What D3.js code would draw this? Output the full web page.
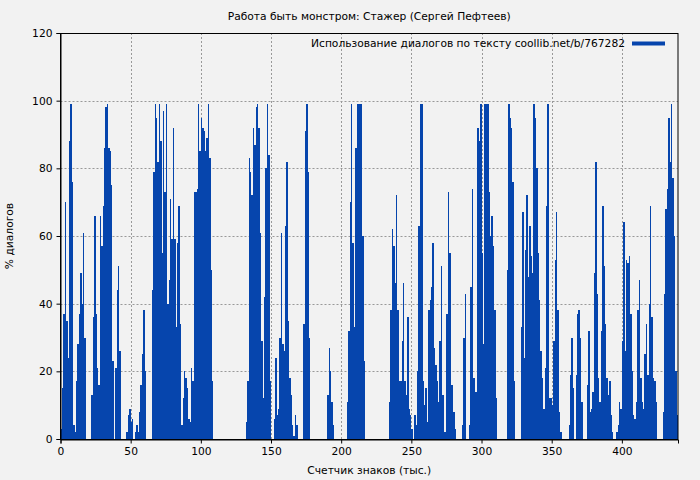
<!DOCTYPE html>
<html>
<head>
<meta charset="utf-8">
<script src="https://cdn.jsdelivr.net/npm/d3@7"></script>
<style>
  html, body { margin: 0; padding: 0; background: #f2f2f2; }
  svg { display: block; }
  text { font-family: "DejaVu Sans", sans-serif; fill: #000; }
</style>
</head>
<body>
<script>
// ---- data ----
const chartTitle = "Работа быть монстром: Стажер (Сергей Пефтеев)";
const seriesName = "Использование диалогов по тексту coollib.net/b/767282";
const xLabel = "Счетчик знаков (тыс.)";
const yLabel = "% диалогов";
const xTicks = [0, 50, 100, 150, 200, 250, 300, 350, 400];
const yTicks = [0, 20, 40, 60, 80, 100, 120];
// share of dialogue (%) for each thousand characters of text, index = counter (thousands)
const dialogShare = [
  3, 15, 37, 70, 35, 24, 88, 99, 76, 4, 2, 17, 28, 37, 49, 40, 61, 30,
  0, 0, 0, 0,
  13, 36, 66, 37, 21, 16, 66, 57, 69, 86, 98, 99, 86, 85, 75, 23,
  0,
  21, 44, 51, 26,
  0, 0, 0, 0,
  2, 7, 9, 5, 6, 0, 2, 4, 2, 8, 16, 25, 38, 20,
  0, 0, 0, 0,
  44, 79, 99, 95, 82, 99, 88, 55, 97, 73, 99, 40, 47, 71, 59, 92, 59, 33, 58, 69,
  34, 4, 12, 20, 18, 15, 6, 5, 21, 17, 73, 73, 74, 99, 85, 95, 92, 91, 85, 89, 99, 83, 50, 17,
  0, 0, 0, 0, 0, 0, 0, 0, 0, 0, 0, 0, 0, 0, 0, 0, 0, 0, 0, 0, 0, 0, 0,
  5, 17, 83, 79, 72, 92, 87, 98, 99, 92, 61, 29, 12, 42, 80, 99, 84, 17,
  0, 0,
  6, 24, 7, 9, 30, 61, 28, 26, 63, 82, 35, 18, 13, 4, 1, 7, 4,
  0, 0, 0, 0,
  34, 91, 99, 79, 30,
  0, 0, 0, 0, 0, 0, 0, 0, 0, 0, 0, 0,
  13, 27, 20, 11, 4,
  0, 0, 0, 0, 0, 0, 0, 0, 0,
  11, 32, 70, 99, 58, 33, 86, 99, 99, 99, 99, 60, 23, 0,
  0, 0, 0, 0, 0, 0, 0, 0, 0, 0, 0, 0, 0, 0, 0, 0,
  11, 38, 62, 57, 46, 72, 38, 17, 17, 29, 46, 17, 13, 36, 9, 7, 3, 0, 7, 4,
  20, 63, 99, 99, 17, 10, 15, 5, 38, 41, 45, 58, 27, 22, 17, 11, 29, 51, 13, 2,
  2, 37, 73, 55, 16, 16, 8, 3,
  0, 0, 0, 0,
  4, 30, 43, 0, 0, 4, 45, 74, 18, 14, 14, 92, 88, 99, 55, 28, 99, 99, 99, 73, 60, 66, 57, 38, 12,
  0, 0, 0, 0, 0, 0, 0,
  50, 99, 95, 92, 76, 17,
  0, 0, 0, 0,
  33, 67, 24, 56, 72, 48, 63, 54, 49, 99, 95, 80, 55, 41, 26, 18, 9, 21, 69, 99,
  12, 12, 10, 29, 53, 67, 38, 8, 2,
  0, 0, 0, 0, 0,
  4, 19, 30, 15, 0, 19, 37, 38, 30, 11,
  0, 0, 0,
  16, 32, 8, 9, 14, 49, 82, 43, 18, 11, 32, 69, 51, 34, 18, 13, 17, 7, 2,
  0, 0,
  2, 4, 11, 9, 29, 64, 26, 53, 52, 54, 37, 20, 7, 6, 11, 38, 47, 18, 11, 9,
  25, 34, 19, 40, 69, 36, 18, 17, 11,
  0, 0, 0, 0,
  8, 43, 68, 74, 95, 82, 99, 77, 60, 20, 7
];

// ---- layout ----
const W = 700, H = 480;
const mLeft = 60.5, mRight = 678, mTop = 33, mBottom = 439;
const barColor = "#0645ad";
const fontSize = 10.7;

const svg = d3.select("body").append("svg").attr("width", W).attr("height", H);
svg.append("rect").attr("width", W).attr("height", H).attr("fill", "#f2f2f2");

const x = d3.scaleLinear().domain([0, dialogShare.length]).range([mLeft, mRight]);
const y = d3.scaleLinear().domain([0, 120]).range([mBottom, mTop]);

// grid
const grid = svg.append("g").attr("stroke", "#999").attr("stroke-width", 1).attr("stroke-dasharray", "2,2");
grid.selectAll("line.v").data(xTicks.filter(t => t > 0)).join("line")
  .attr("x1", d => Math.round(x(d)) + 0.5).attr("x2", d => Math.round(x(d)) + 0.5)
  .attr("y1", mTop).attr("y2", mBottom);
grid.selectAll("line.h").data(yTicks.filter(t => t > 0 && t < 120)).join("line")
  .attr("y1", d => Math.round(y(d)) + 0.5).attr("y2", d => Math.round(y(d)) + 0.5)
  .attr("x1", mLeft).attr("x2", mRight);

// bars (edges snapped to whole pixels so neighbours touch without gaps)
svg.append("g").attr("fill", barColor).attr("shape-rendering", "crispEdges")
  .selectAll("rect").data(dialogShare).join("rect")
  .attr("x", (d, i) => Math.round(x(i)))
  .attr("width", (d, i) => Math.max(1, Math.round(x(i + 1)) - Math.round(x(i))))
  .attr("y", d => y(d))
  .attr("height", d => y(0) - y(d));

// frame
svg.append("rect").attr("x", mLeft).attr("y", mTop + 0.5)
  .attr("width", mRight - mLeft).attr("height", mBottom - mTop)
  .attr("fill", "none").attr("stroke", "#000").attr("stroke-width", 1);

// axes
const xAxis = d3.axisBottom(x).tickValues(xTicks).tickSize(4).tickPadding(4).tickFormat(d3.format("d"));
const yAxis = d3.axisLeft(y).tickValues(yTicks).tickSize(4).tickPadding(4).tickFormat(d3.format("d"));
const gx = svg.append("g").attr("transform", `translate(0,${mBottom + 0.5})`).call(xAxis);
const gy = svg.append("g").attr("transform", `translate(${mLeft},0)`).call(yAxis);
[gx, gy].forEach(g => {
  g.select(".domain").attr("stroke", "#000");
  g.selectAll(".tick line").attr("stroke", "#000");
  g.selectAll(".tick text").attr("font-family", "DejaVu Sans, sans-serif").attr("font-size", fontSize).attr("fill", "#000");
});

// title and labels
svg.append("text").attr("x", (mLeft + mRight) / 2).attr("y", 20).attr("text-anchor", "middle")
  .attr("font-size", fontSize).text(chartTitle);
svg.append("text").attr("x", (mLeft + mRight) / 2).attr("y", 474).attr("text-anchor", "middle")
  .attr("font-size", fontSize).text(xLabel);
svg.append("text").attr("transform", `translate(13,${(mTop + mBottom) / 2}) rotate(-90)`)
  .attr("text-anchor", "middle").attr("font-size", fontSize).text(yLabel);

// legend
svg.append("text").attr("x", 625).attr("y", 47).attr("text-anchor", "end")
  .attr("font-size", fontSize).text(seriesName);
svg.append("rect").attr("x", 632).attr("y", 41.5).attr("width", 33).attr("height", 4).attr("fill", barColor);
</script>
</body>
</html>
